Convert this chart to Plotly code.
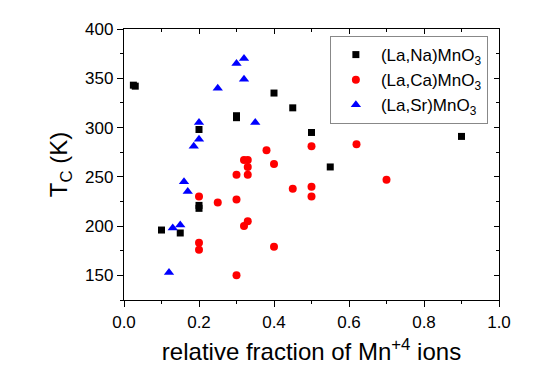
import plotly.graph_objects as go

# (La,Na)MnO3
na_x = [0.025, 0.03, 0.10, 0.15, 0.20, 0.20, 0.20, 0.30, 0.30, 0.40, 0.45, 0.50, 0.55, 0.90]
na_y = [343, 342, 196, 193, 221, 218, 298, 310, 312, 335, 320, 295, 260, 291]

# (La,Ca)MnO3
ca_x = [0.20, 0.20, 0.20, 0.25, 0.30, 0.30, 0.30, 0.32, 0.33, 0.33, 0.33, 0.32, 0.33,
        0.38, 0.40, 0.40, 0.45, 0.50, 0.50, 0.50, 0.62, 0.70]
ca_y = [230, 183, 176, 224, 227, 252, 150, 267, 267, 260, 252, 200, 205,
        277, 263, 179, 238, 240, 230, 281, 283, 247]

# (La,Sr)MnO3
sr_x = [0.12, 0.13, 0.15, 0.16, 0.17, 0.186, 0.20, 0.20, 0.25, 0.30, 0.32, 0.32, 0.35]
sr_y = [153, 198, 201, 245, 235, 281, 288, 305, 340, 365, 370, 349, 305]

x_ticks = [0.0, 0.2, 0.4, 0.6, 0.8, 1.0]
y_ticks = [150, 200, 250, 300, 350, 400]

FONT = "Arial, 'Liberation Sans', sans-serif"

fig = go.Figure()
fig.add_trace(go.Scatter(x=na_x, y=na_y, mode="markers", name="(La,Na)MnO<sub>3</sub>",
                         marker=dict(symbol="square", size=7, color="black")))
fig.add_trace(go.Scatter(x=ca_x, y=ca_y, mode="markers", name="(La,Ca)MnO<sub>3</sub>",
                         marker=dict(symbol="circle", size=8, color="#ff0000")))
fig.add_trace(go.Scatter(x=sr_x, y=sr_y, mode="markers", name="(La,Sr)MnO<sub>3</sub>",
                         marker=dict(symbol="triangle-up", size=9, color="#0000ff")))
# dummy trace to register mirrored (top/right) axes
fig.add_trace(go.Scatter(x=[None], y=[None], xaxis="x2", yaxis="y2",
                         showlegend=False, hoverinfo="skip"))

axis_common = dict(showgrid=False, zeroline=False, showline=True, linecolor="black",
                   linewidth=1.3, tickcolor="black", tickwidth=1.2)

# the page body adds an 8px margin, so the figure is shrunk to keep the plot in place
fig.update_layout(
    width=542, height=369,
    margin=dict(l=116, r=51, t=18, b=77),
    paper_bgcolor="white", plot_bgcolor="white",
    font=dict(family=FONT, size=17, color="black"),
    showlegend=True,
    legend=dict(x=0.549, y=0.974, xanchor="left", yanchor="top",
                bordercolor="#888888", borderwidth=1, bgcolor="white",
                itemwidth=40,
                font=dict(size=17, family=FONT)),
    xaxis=dict(range=[0, 1], tickvals=x_ticks, tickformat=".1f",
               ticks="outside", ticklen=6,
               minor=dict(dtick=0.1, ticks="outside", ticklen=3, tickcolor="black"),
               title=dict(text="relative fraction of Mn<sup>+4</sup> ions",
                          font=dict(size=24, family=FONT), standoff=12),
               **axis_common),
    yaxis=dict(range=[125, 400], tickvals=y_ticks,
               ticks="outside", ticklen=6,
               minor=dict(dtick=25, tick0=125, ticks="outside", ticklen=3, tickcolor="black"),
               title=dict(text="T<sub>C</sub> (K)", font=dict(size=24, family=FONT), standoff=10),
               **axis_common),
    xaxis2=dict(range=[0, 1], overlaying="x", side="top", anchor="y2",
                tickvals=x_ticks, ticks="inside", ticklen=5, showticklabels=False,
                minor=dict(dtick=0.1, ticks="inside", ticklen=3, tickcolor="black"),
                **axis_common),
    yaxis2=dict(range=[125, 400], overlaying="y", side="right", anchor="x2",
                tickvals=y_ticks, ticks="inside", ticklen=5, showticklabels=False,
                minor=dict(dtick=25, tick0=125, ticks="inside", ticklen=3, tickcolor="black"),
                **axis_common),
)

fig.write_html("out.html")
